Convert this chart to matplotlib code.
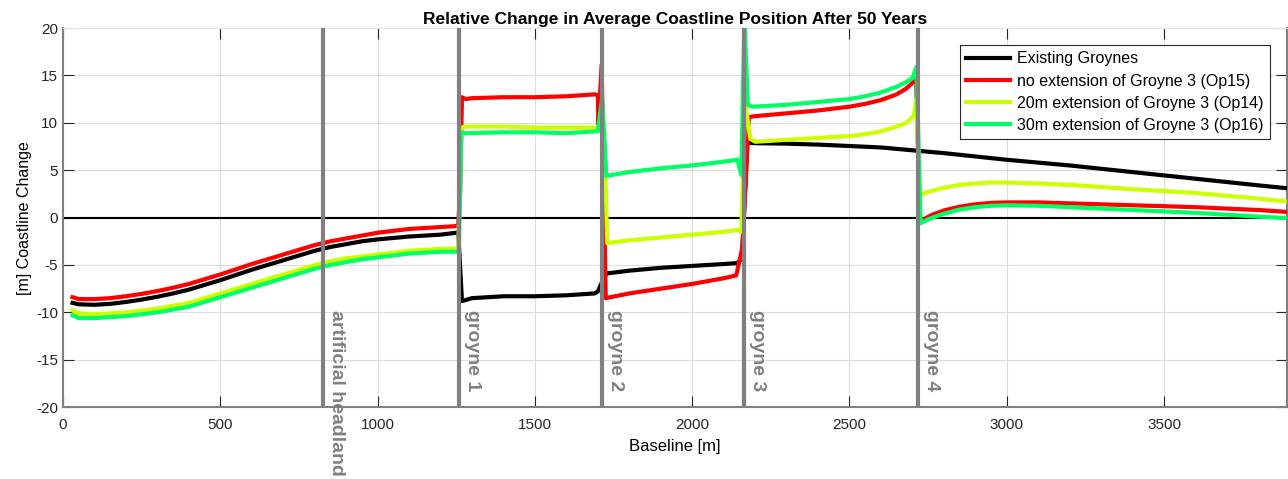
#!/usr/bin/env python3

import matplotlib
matplotlib.use('Agg')
import matplotlib.pyplot as plt

plt.rcParams['font.family'] = ['Liberation Sans', 'DejaVu Sans']
plt.rcParams['axes.unicode_minus'] = False

# structure positions along the baseline [m]
structure_x = [827, 1260, 1714, 2166, 2719]
structure_labels = ['artificial headland', 'groyne 1', 'groyne 2', 'groyne 3', 'groyne 4']

series_labels = ['Existing Groynes',
                 'no extension of Groyne 3 (Op15)',
                 '20m extension of Groyne 3 (Op14)',
                 '30m extension of Groyne 3 (Op16)']

# existing groynes
black_x = [30, 50, 100, 150, 200, 250, 300, 350, 400, 450, 500, 600, 700, 800, 850, 900, 950, 1000,
           1100, 1200, 1250, 1256, 1268, 1280, 1300, 1400, 1500, 1600, 1690, 1700, 1712, 1727,
           1800, 1900, 2000, 2100, 2144, 2158, 2175, 2200, 2300, 2400, 2500, 2600, 2700, 2800,
           3000, 3200, 3400, 3600, 3800, 3890]
black_y = [-9.0, -9.15, -9.2, -9.1, -8.9, -8.65, -8.35, -8.0, -7.6, -7.1, -6.6, -5.5, -4.5, -3.5, -3.1, -2.8, -2.5, -2.3,
           -2.0, -1.8, -1.6, -1.5, -8.8, -8.7, -8.5, -8.3, -8.3, -8.2, -8.0, -7.8, -6.9, -5.9,
           -5.6, -5.3, -5.1, -4.9, -4.8, -4.3, 7.9, 7.85, 7.8, 7.7, 7.55, 7.4, 7.1, 6.8,
           6.1, 5.5, 4.8, 4.1, 3.4, 3.1]

# no extension (Op15)
red_x = [30, 50, 100, 150, 200, 250, 300, 350, 400, 450, 500, 600, 700, 800, 850, 900, 950, 1000,
         1100, 1200, 1250, 1256, 1262, 1268, 1280, 1300, 1400, 1500, 1600, 1690, 1700, 1702, 1712,
         1725, 1800, 1900, 2000, 2100, 2140, 2160, 2180, 2200, 2300, 2400, 2500, 2550, 2600, 2650,
         2680, 2700, 2712, 2724, 2740, 2760, 2800, 2850, 2900, 2950, 3000, 3100, 3200, 3400, 3600,
         3800, 3890]
red_y = [-8.4, -8.6, -8.6, -8.5, -8.3, -8.05, -7.75, -7.4, -7.0, -6.5, -6.0, -4.9, -3.9, -2.9, -2.5, -2.2, -1.9, -1.6,
         -1.2, -1.0, -0.9, -0.8, 2.6, 12.7, 12.5, 12.6, 12.7, 12.7, 12.8, 13.0, 12.9, 9.8, 16.1,
         -8.5, -8.0, -7.5, -7.0, -6.4, -6.1, -3.1, 10.6, 10.7, 11.0, 11.3, 11.7, 12.0, 12.4, 13.0,
         13.6, 14.2, 14.5, -0.4, -0.1, 0.25, 0.75, 1.15, 1.4, 1.55, 1.6, 1.6, 1.5, 1.3, 1.1,
         0.8, 0.6]

# 20m extension (Op14)
yellow_x = [30, 50, 100, 150, 200, 250, 300, 350, 400, 450, 500, 600, 700, 800, 850, 900, 950, 1000,
            1100, 1200, 1250, 1256, 1266, 1280, 1400, 1500, 1600, 1690, 1700, 1720, 1730, 1800,
            1900, 2000, 2100, 2144, 2156, 2168, 2185, 2200, 2300, 2400, 2500, 2550, 2600, 2650,
            2680, 2695, 2705, 2712, 2724, 2740, 2760, 2800, 2850, 2900, 2950, 3000, 3100, 3200,
            3400, 3600, 3800, 3890]
yellow_y = [-9.8, -10.1, -10.2, -10.1, -10.0, -9.8, -9.6, -9.3, -9.0, -8.5, -8.0, -7.0, -6.0, -5.0, -4.6, -4.3, -4.1, -3.9,
            -3.5, -3.3, -3.3, -3.3, 9.5, 9.6, 9.6, 9.5, 9.5, 9.5, 9.3, 9.2, -2.7, -2.4,
            -2.1, -1.8, -1.5, -1.3, -1.5, 12.1, 8.3, 8.0, 8.2, 8.4, 8.6, 8.8, 9.1, 9.6,
            10.0, 10.4, 10.8, 12.5, 2.4, 2.6, 2.8, 3.15, 3.45, 3.6, 3.7, 3.7, 3.6, 3.45,
            3.0, 2.6, 2.0, 1.7]

# 30m extension (Op16)
green_x = [30, 50, 100, 150, 200, 250, 300, 350, 400, 450, 500, 600, 700, 800, 850, 900, 950, 1000,
           1100, 1200, 1250, 1258, 1266, 1280, 1400, 1500, 1600, 1690, 1700, 1714, 1727, 1800,
           1900, 2000, 2100, 2144, 2156, 2166, 2177, 2190, 2250, 2300, 2400, 2500, 2550, 2600,
           2650, 2680, 2700, 2713, 2726, 2740, 2760, 2800, 2850, 2900, 2950, 3000, 3100, 3200,
           3400, 3600, 3800, 3890]
green_y = [-10.3, -10.6, -10.6, -10.5, -10.4, -10.2, -10.0, -9.7, -9.4, -8.9, -8.4, -7.4, -6.4, -5.4, -5.0, -4.7, -4.4, -4.2,
           -3.8, -3.6, -3.6, -3.6, 9.0, 8.9, 9.0, 9.0, 8.9, 9.1, 9.1, 12.6, 4.4, 4.8,
           5.2, 5.5, 5.9, 6.1, 4.5, 21.0, 11.9, 11.7, 11.8, 11.9, 12.2, 12.5, 12.8, 13.2,
           13.8, 14.3, 14.7, 15.9, -0.6, -0.35, -0.05, 0.4, 0.85, 1.1, 1.25, 1.3, 1.25, 1.1,
           0.8, 0.5, 0.1, -0.05]

fig = plt.figure(figsize=(12.88, 4.79), dpi=100)
ax = fig.add_axes([0.049, 0.150, 0.950, 0.7915])

ax.grid(True, color='#dcdcdc', linewidth=0.8, zorder=0)
ax.axhline(y=0.0, color='black', linestyle='-', linewidth=1.5, zorder=2)

ax.plot(black_x, black_y, color='black', linewidth=3, label=series_labels[0], zorder=3)
ax.plot(red_x, red_y, color='#ff0000', linewidth=3, label=series_labels[1], zorder=3)
ax.plot(yellow_x, yellow_y, color='#ccff00', linewidth=3, label=series_labels[2], zorder=3)
ax.plot(green_x, green_y, color='#00ff66', linewidth=3, label=series_labels[3], zorder=3)

for sx, label in zip(structure_x, structure_labels):
  ax.axvline(x=sx, color='#808080', linewidth=3, zorder=4)
  ax.text(sx + 14, -9.7, label, rotation=-90, ha='left', va='top',
          color='#808080', fontsize=14, fontweight='bold', zorder=5)

ax.set_xlim(0, 3890)
ax.set_ylim(-20, 20)
ax.set_xticks(range(0, 3501, 500))
ax.set_yticks(range(-20, 21, 5))
ax.tick_params(direction='in', length=8, width=0.8, top=True, right=True,
               labelsize=11, colors='#262626')
ax.tick_params(axis='x', pad=8)
for spine in ax.spines.values():
  spine.set_color('#808080')
  spine.set_linewidth(1.5)
ax.spines['top'].set_color('#e6e6e6')
ax.spines['top'].set_linewidth(0.8)

ax.set_title('Relative Change in Average Coastline Position After 50 Years',
             fontsize=12.5, fontweight='bold', pad=3)
ax.set_xlabel('Baseline [m]', fontsize=12, labelpad=5)
ax.set_ylabel('[m] Coastline Change', fontsize=11.5, labelpad=3)

leg = ax.legend(loc='upper right', bbox_to_anchor=(0.986, 0.955), borderaxespad=0,
                fontsize=11.5, fancybox=False, framealpha=1, edgecolor='#262626',
                handlelength=2.75, handletextpad=0.4, labelspacing=0.45)
leg.get_frame().set_linewidth(0.8)

plt.savefig('out.png', dpi=100)
